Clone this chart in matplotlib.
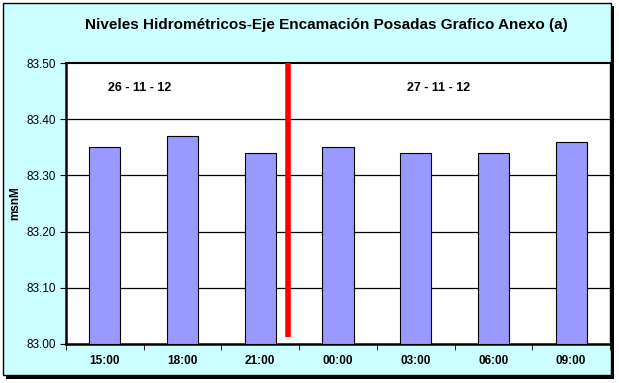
import numpy as np
import matplotlib.pyplot as plt
from matplotlib.patches import Rectangle

# data
horas = ['15:00', '18:00', '21:00', '00:00', '03:00', '06:00', '09:00']
niveles = [83.35, 83.37, 83.34, 83.35, 83.34, 83.34, 83.36]
fechas = ['26 - 11 - 12', '27 - 11 - 12']
fecha_x = [0.45, 4.3]
corte_x = 2.36
yticks = [83.0, 83.1, 83.2, 83.3, 83.4, 83.5]

plt.rcParams['font.family'] = ['Liberation Sans', 'DejaVu Sans']

W, H = 619, 383
fig = plt.figure(figsize=(W/100, H/100), dpi=100)
fig.patch.set_facecolor('white')

# outer frame with shadow
fig.patches.append(Rectangle((6/W, 1-379/H), 608/W, 373/H, transform=fig.transFigure,
                             facecolor='black', edgecolor='none', zorder=-2))
fig.patches.append(Rectangle((3/W, 1-375/H), 608/W, 372/H, transform=fig.transFigure,
                             facecolor='#CCFFFF', edgecolor='black', lw=1, zorder=-1))

ax = fig.add_axes([66/W, 1-344/H, (610-66)/W, (344-63)/H])
ax.set_facecolor('white')
x = np.arange(len(horas))
ax.bar(x, [v - 83.0 for v in niveles], bottom=83.0, width=0.4, color='#9999FF',
       edgecolor='black', lw=0.8, zorder=3)
ax.set_xlim(-0.5, len(horas) - 0.5)
ax.set_ylim(83.0, 83.5)
ax.set_yticks(yticks)
ax.set_yticklabels([f'{v:.2f}' for v in yticks], fontsize=8.5)
for v in yticks[1:-1]:
    ax.axhline(v, color='black', lw=0.9, zorder=1)

ax.set_xticks(x)
ax.set_xticklabels(horas, fontsize=8.5, fontweight='bold')
ax.set_xticks(np.arange(-0.5, len(horas)), minor=True)
ax.tick_params(axis='x', which='major', length=0, pad=8)
ax.tick_params(axis='x', which='minor', length=4, direction='out')
ax.tick_params(axis='y', length=4, direction='out', pad=3)

for s in ax.spines.values():
    s.set_linewidth(1.0)
ax.spines['left'].set_linewidth(1.8)
ax.spines['bottom'].set_linewidth(1.8)
ax.spines['top'].set_linewidth(1.5)

ax.plot([corte_x, corte_x], [83.012, 83.5], color='red', lw=4, zorder=4, clip_on=False,
        solid_capstyle='butt')

for fx, ft in zip(fecha_x, fechas):
    ax.text(fx, 83.455, ft, fontsize=9, fontweight='bold', ha='center', va='center')

ax.set_ylabel('msnM', fontsize=8.5, fontweight='bold', labelpad=4)

fig.text(326/W, 1-25/H, 'Niveles Hidrométricos-Eje Encamación Posadas Grafico Anexo (a)',
         fontsize=11, fontweight='bold', ha='center', va='center')

fig.savefig('out.png', dpi=100)
